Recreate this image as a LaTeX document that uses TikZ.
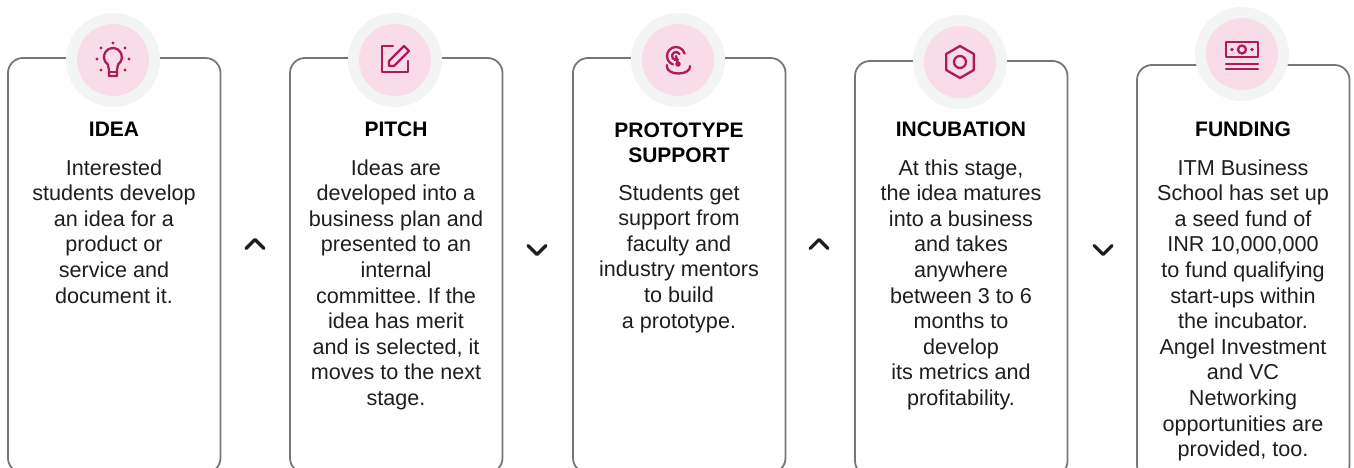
\documentclass[tikz,border=0pt]{standalone}
\usepackage{fontspec}
\setmainfont{Liberation Sans}
\frenchspacing
\definecolor{ringgray}{RGB}{243,244,244}
\definecolor{badgepink}{RGB}{248,221,232}
\definecolor{iconred}{RGB}{172,28,90}
\definecolor{framegray}{RGB}{118,118,118}
\definecolor{inkdark}{RGB}{30,30,30}
\tikzset{
  card/.style={draw=framegray,line width=1.8pt,rounded corners=15pt},
  ring/.style={circle,fill=ringgray,minimum size=94pt,inner sep=0pt},
  badge/.style={circle,fill=badgepink,minimum size=72pt,inner sep=0pt},
  icon/.style={draw=iconred,line width=2.3pt,line cap=round,line join=round},
  dotmark/.style={fill=iconred},
  cardtitle/.style={font=\fontsize{21}{25.6}\selectfont\bfseries,align=center,anchor=base,text=black,inner sep=0pt},
  cardbody/.style={font=\fontsize{21.6}{25.6}\selectfont,align=center,anchor=base,text=inkdark,inner sep=0pt},
  chevron/.style={draw=inkdark,line width=3.2pt,line cap=round,line join=round},
}
\begin{document}
\begin{tikzpicture}[x=1pt,y=-1pt]
\useasboundingbox (0,0) rectangle (1354,468);
\clip (0,0) rectangle (1354,468);
% frames and badges
\foreach \l/\t/\cy [count=\i] in {8/58/60,290/58/60,573/58/60,855/61/62,1137/65/54} {
  \draw[card] (\l,\t) rectangle ++(212.5,415);
  \node[ring] (ring\i) at (\l+105,\cy) {};
  \node[badge] (badge\i) at (ring\i) {};
  \coordinate (mid\i) at (\l+106,0);
}
% icons
\begin{scope}[shift={(badge1.center)}]
  \draw[icon] (-5.2,4.4) arc[start angle=125,end angle=415,radius=9] -- (4,10) -- (4,16) -- (-4,16) -- (-4,10) -- cycle;
  \draw[icon] (-4,12) -- (4,12);
  \foreach \p in {(0,-17),(-12,-12),(12,-12),(-16,-1),(16,-1),(-12,10),(12,10)}
    \fill[dotmark] \p circle(1.6);
\end{scope}
\begin{scope}[shift={(badge2.center)}]
  \draw[icon] (-2,-14) -- (-13,-14) -- (-13,12) -- (13,12) -- (13,1);
  \draw[icon] (-6,6) -- (-6,1) -- (9,-14) -- (14,-9) -- (-1,6) -- cycle;
\end{scope}
\begin{scope}[shift={(badge3.center)}]
  \draw[icon] (-2,-4) ++(110:9) arc[start angle=110,end angle=345,radius=9];
  \draw[icon] (0,4) -- (-2,-4) ++(60:4) arc[start angle=60,end angle=330,radius=4];
  \fill[dotmark] (0,4) circle(2.8);
  \draw[icon] (-11,5) -- (-11,7) arc[start angle=180,end angle=0,x radius=11.5,y radius=6.5] -- (12,6);
\end{scope}
\begin{scope}[shift={(badge4.center)}]
  \draw[icon] (270:16) -- (330:16) -- (30:16) -- (90:16) -- (150:16) -- (210:16) -- cycle;
  \draw[icon] (0,0) circle(6);
\end{scope}
\begin{scope}[shift={(badge5.center)}]
  \draw[icon] (-16,-12) rectangle (16,3);
  \draw[icon] (0,-4.5) circle(4);
  \fill[dotmark] (-10,-4.5) circle(1.8) (10,-4.5) circle(1.8);
  \draw[icon] (-16,10) -- (16,10) (-16,15) -- (16,15);
\end{scope}
% titles (base = last line)
\node[cardtitle] (idea) at ([yshift=-137pt]mid1) {IDEA};
\node[cardtitle] (pitch) at ([yshift=-137pt]mid2) {PITCH};
\node[cardtitle] (proto) at ([yshift=-162.6pt]mid3) {PROTOTYPE\\SUPPORT};
\node[cardtitle] (incub) at ([yshift=-137pt]mid4) {INCUBATION};
\node[cardtitle] (fund) at ([yshift=-137pt]mid5) {FUNDING};
% texts
\node[cardbody] (ideatext) at ([yshift=-303pt]mid1) {Interested\\students develop\\an idea for a\\product or\\service and\\document it.};
\node[cardbody] (pitchtext) at ([yshift=-405.4pt]mid2) {Ideas are\\developed into a\\business plan and\\presented to an\\internal\\committee. If the\\idea has merit\\and is selected, it\\moves to the next\\stage.};
\node[cardbody] (prototext) at ([yshift=-328pt]mid3) {Students get\\support from\\faculty and\\industry mentors\\to build\\a prototype.};
\node[cardbody] (incubtext) at ([yshift=-405.4pt]mid4) {At this stage,\\the idea matures\\into a business\\and takes\\anywhere\\between 3 to 6\\months to\\develop\\its metrics and\\profitability.};
\node[cardbody] (fundtext) at ([yshift=-456.6pt]mid5) {ITM Business\\School has set up\\a seed fund of\\INR 10,000,000\\to fund qualifying\\start-ups within\\the incubator.\\Angel Investment\\and VC\\Networking\\opportunities are\\provided, too.};
% chevrons
\foreach \x/\y/\d [count=\i] in {255/244/-1,537/250/1,819/244/-1,1103/250/1}
  \draw[chevron] (\x-9,\y-4.5*\d) -- (\x,\y+4.5*\d) -- (\x+9,\y-4.5*\d);
\end{tikzpicture}
\end{document}
